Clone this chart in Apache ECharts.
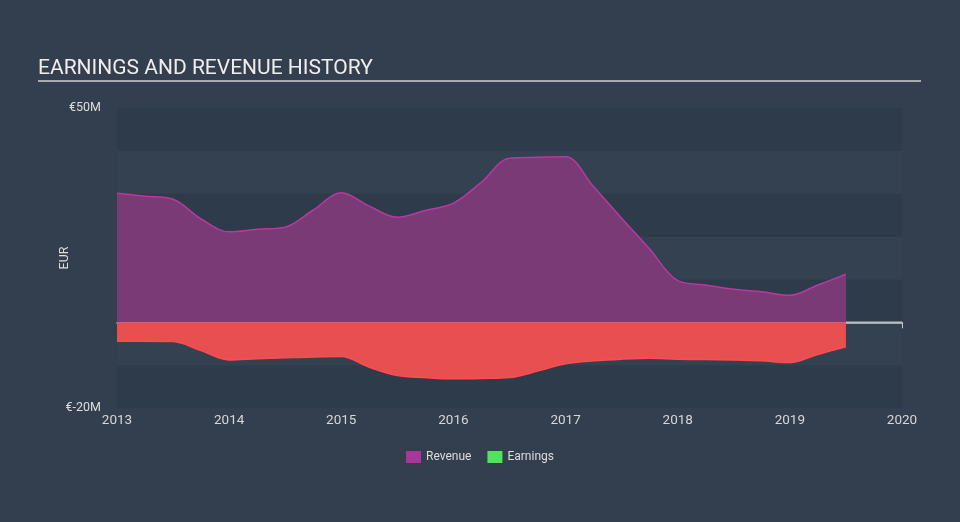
<!DOCTYPE html>
<html>
<head>
<meta charset="utf-8">
<style>
html,body{margin:0;padding:0;background:#333f4e;}
#chart{width:960px;height:522px;}
</style>
<script src="https://cdn.jsdelivr.net/npm/echarts@6/dist/echarts.min.js"></script>
</head>
<body>
<div id="chart"></div>
<script>
const periods = [2013.0,2013.25,2013.5,2013.75,2014.0,2014.25,2014.5,2014.75,2015.0,2015.25,2015.5,2015.75,2016.0,2016.25,2016.5,2016.75,2017.0,2017.25,2017.5,2017.75,2018.0,2018.25,2018.5,2018.75,2019.0,2019.25,2019.5];
const revenue = [30.1,29.4,28.7,24.1,21.1,21.7,22.2,26.2,30.2,27.1,24.5,26.1,27.8,32.7,38.3,38.5,38.6,31.6,24.3,17.1,9.7,8.7,7.7,7.1,6.3,8.7,11.2];
const earnings = [-4.4,-4.4,-4.5,-6.6,-8.8,-8.5,-8.3,-8.1,-8.0,-10.5,-12.4,-12.9,-13.2,-13.1,-12.9,-11.4,-9.7,-9.0,-8.6,-8.4,-8.6,-8.7,-8.8,-9.0,-9.4,-7.5,-5.7];
const yTickLabels = {50:'€50M', '-20':'€-20M'};
const xMin = 2013, xMax = 2020;

const chart = echarts.init(document.getElementById('chart'));
const pair = (arr) => periods.map((p,i)=>[p,arr[i]]);
chart.setOption({
  backgroundColor:'#333f4e',
  animation:false,
  title:{text:'EARNINGS AND REVENUE HISTORY',left:38,top:58,padding:0,textStyle:{color:'#eeeeee',fontSize:21,fontWeight:'normal',fontFamily:'Roboto'}},
  graphic:[{type:'line',shape:{x1:38,y1:81,x2:921,y2:81},style:{stroke:'#a9adb3',lineWidth:2}}],
  grid:{left:117,right:58,top:108,bottom:114},
  legend:{bottom:54,left:'center',icon:'rect',itemWidth:15,itemHeight:12,itemGap:16,
    textStyle:{color:'#dddddd',fontSize:12,fontFamily:'Roboto'},
    data:[{name:'Revenue',itemStyle:{color:'#a9379b'}},{name:'Earnings',itemStyle:{color:'#4ee55a'}}]},
  xAxis:{type:'value',min:xMin,max:xMax,interval:1,
    axisLine:{show:true,lineStyle:{color:'#c8ccd2',width:1.5}},
    axisTick:{show:true,length:6,lineStyle:{color:'#c8ccd2'}},
    axisLabel:{color:'#d4d7dc',fontSize:13.5,fontFamily:'Roboto',margin:6,formatter:v=>String(v)},
    splitLine:{show:false}},
  yAxis:{type:'value',min:-20,max:50,interval:10,
    name:'EUR',nameLocation:'middle',nameRotate:90,nameGap:46,nameMoveOverlap:false,
    nameTextStyle:{color:'#dddddd',fontSize:12.5,fontFamily:'Roboto'},
    axisLine:{show:false},axisTick:{show:false},
    axisLabel:{color:'#dddddd',fontSize:12.5,fontFamily:'Roboto',margin:16,formatter:v=>yTickLabels[v]||''},
    splitLine:{show:false},
    splitArea:{show:true,areaStyle:{color:['#2e3b4a','#344150']}}},
  series:[
    {name:'zero',type:'line',data:[[xMin,0],[xMax,0]],symbol:'none',z:1,silent:true,
      lineStyle:{color:'#b9bcc1',width:1.5,cap:'butt'}},
    {name:'Revenue',type:'line',data:pair(revenue),smooth:0.35,symbol:'none',z:3,
      itemStyle:{color:'#a9379b'},
      lineStyle:{color:'#b8399f',width:1.5},
      areaStyle:{color:'#7a3a76',opacity:1}},
    {name:'Earnings',type:'line',data:pair(earnings),smooth:0.35,symbol:'none',z:3,
      itemStyle:{color:'#4ee55a'},
      lineStyle:{color:'#ff4d4f',width:1.5},
      areaStyle:{color:'#e84f50',opacity:1}}
  ]
});
</script>
</body>
</html>
